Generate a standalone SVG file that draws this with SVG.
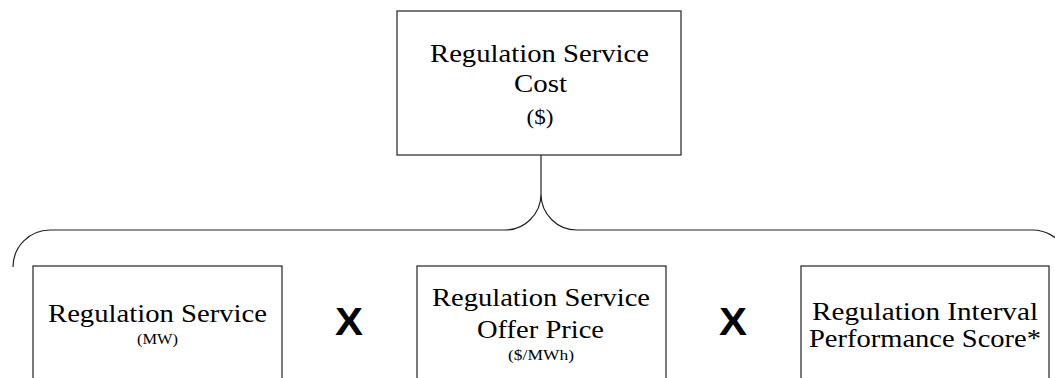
<svg xmlns="http://www.w3.org/2000/svg" width="1055" height="378" viewBox="0 0 1055 378">
<style>
.box{fill:#fff;stroke:#222;stroke-width:1.2}
.conn{fill:none;stroke:#222;stroke-width:1.2}
.t{font-family:"Liberation Serif","Times New Roman",serif;font-size:26px;fill:#000;text-anchor:middle}
.s{font-family:"Liberation Serif","Times New Roman",serif;font-size:15px;fill:#000;text-anchor:middle}
.m{font-family:"Liberation Serif","Times New Roman",serif;font-size:21px;fill:#000;text-anchor:middle}
.x{font-family:"Liberation Sans",Arial,sans-serif;font-size:38px;font-weight:bold;fill:#000;text-anchor:middle}
</style>
<rect width="1055" height="378" fill="#fff"/>
<g id="connectors">
<path class="conn" d="M541,155 L541,194"/>
<path class="conn" d="M13,267 A37,37 0 0 1 50,230 L505,230 A36,36 0 0 0 541,194 A36,36 0 0 0 577,230 L1033,230 A37,37 0 0 1 1063,246"/>
</g>
<g id="cost">
<rect class="box" x="397" y="11" width="284" height="144"/>
<text class="t" x="539.5" y="62" textLength="219" lengthAdjust="spacingAndGlyphs">Regulation Service</text>
<text class="t" x="540.5" y="92" textLength="53" lengthAdjust="spacingAndGlyphs">Cost</text>
<text class="m" x="540" y="124" textLength="27" lengthAdjust="spacingAndGlyphs">($)</text>
</g>
<g id="service">
<rect class="box" x="33" y="266" width="249" height="130"/>
<text class="t" x="157.5" y="322" textLength="219" lengthAdjust="spacingAndGlyphs">Regulation Service</text>
<text class="s" x="157.5" y="344" textLength="41" lengthAdjust="spacingAndGlyphs">(MW)</text>
</g>
<g id="times1">
<text class="x" x="349" y="335" textLength="28" lengthAdjust="spacingAndGlyphs">X</text>
</g>
<g id="price">
<rect class="box" x="417" y="266" width="249" height="130"/>
<text class="t" x="541" y="306" textLength="218" lengthAdjust="spacingAndGlyphs">Regulation Service</text>
<text class="t" x="540.5" y="338" textLength="127" lengthAdjust="spacingAndGlyphs">Offer Price</text>
<text class="s" x="541" y="360" textLength="66" lengthAdjust="spacingAndGlyphs">($/MWh)</text>
</g>
<g id="times2">
<text class="x" x="733" y="335" textLength="28" lengthAdjust="spacingAndGlyphs">X</text>
</g>
<g id="score">
<rect class="box" x="801" y="266" width="248" height="130"/>
<text class="t" x="925" y="320" textLength="226" lengthAdjust="spacingAndGlyphs">Regulation Interval</text>
<text class="t" x="925" y="347" textLength="232" lengthAdjust="spacingAndGlyphs">Performance Score*</text>
</g>
</svg>
